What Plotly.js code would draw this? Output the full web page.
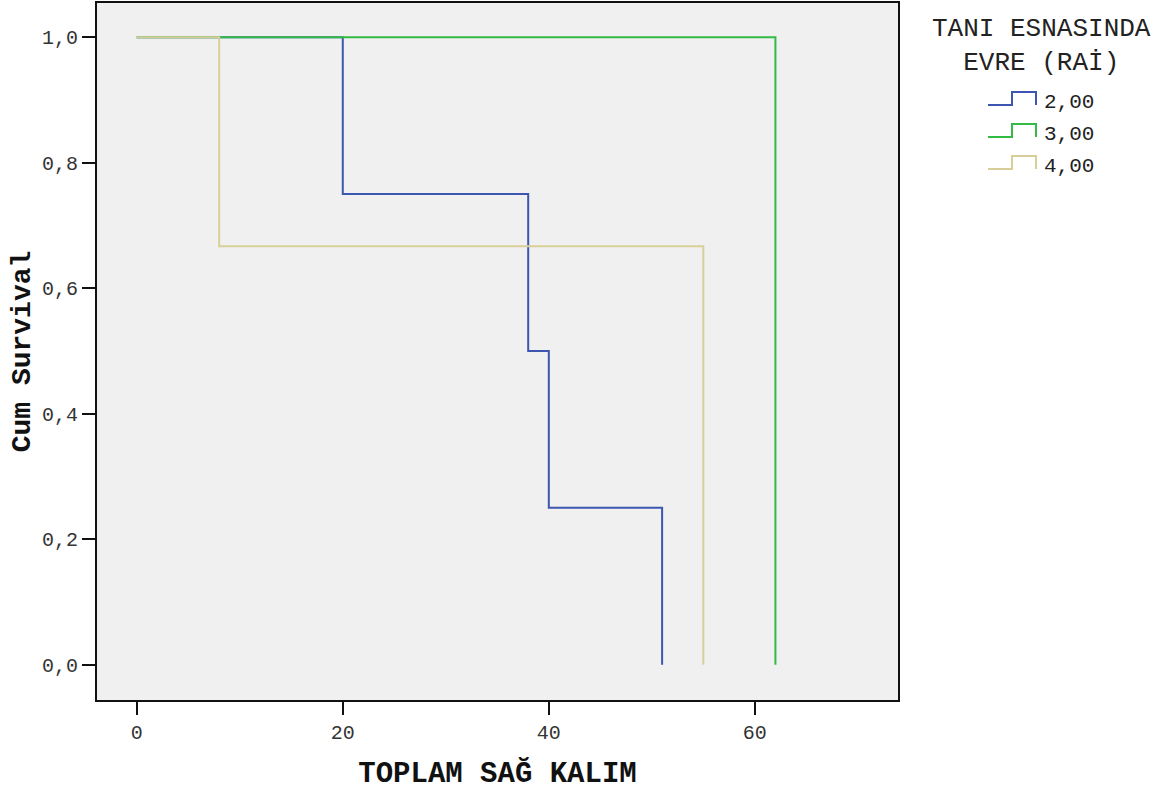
<!DOCTYPE html>
<html>
<head>
<meta charset="utf-8">
<script src="https://cdn.plot.ly/plotly-3.0.1.min.js"></script>
<style>
  html, body { margin: 0; padding: 0; background: #ffffff; }
  #chart { width: 1165px; height: 791px; }
</style>
</head>
<body>
<div id="chart"></div>
<script>
// Kaplan-Meier survival by stage at diagnosis (Rai)
const groupLabels = ['2,00', '3,00', '4,00'];
const groupColors = ['#3d56b0', '#33bb45', '#d8cf98'];

// step points: time of each event and cumulative survival after it
const time200 = [0, 20, 38, 40, 51];
const surv200 = [1.0, 0.75, 0.5, 0.25, 0.0];

const time300 = [0, 62];
const surv300 = [1.0, 0.0];

const time400 = [0, 8, 55];
const surv400 = [1.0, 0.6667, 0.0];

const yTicks = [0, 0.2, 0.4, 0.6, 0.8, 1.0];
const xTicks = [0, 20, 40, 60];

const W = 1165, H = 791;
const M = { l: 97, r: 267, t: 3, b: 91 };
const PW = W - M.l - M.r, PH = H - M.t - M.b;
// pixel -> paper helpers for the hand-built legend
const px = v => (v - M.l) / PW;
const py = v => (H - M.b - v) / PH;

const series = [
  { x: time200, y: surv200 },
  { x: time300, y: surv300 },
  { x: time400, y: surv400 }
];

const traces = series.map((s, i) => ({
  type: 'scatter',
  mode: 'lines',
  x: s.x,
  y: s.y,
  name: groupLabels[i],
  line: { shape: 'hv', color: groupColors[i], width: 2 },
  showlegend: false,
  hoverinfo: 'x+y+name'
}));

const mono = '"Courier New", "Nimbus Mono PS", "Nimbus Mono L", FreeMono, "Liberation Mono", monospace';

// legend: step glyph + label per group
const shapes = [];
const annotations = [];
groupLabels.forEach((lab, i) => {
  const base = 105 + i * 32;
  const top = base - 13;
  shapes.push({
    type: 'path', xref: 'paper', yref: 'paper',
    path: `M ${px(988)} ${py(base)} L ${px(1012)} ${py(base)} L ${px(1012)} ${py(top)} L ${px(1036)} ${py(top)} L ${px(1036)} ${py(base)}`,
    line: { color: groupColors[i], width: 2 }
  });
  annotations.push({
    xref: 'paper', yref: 'paper', x: px(1042), y: py(base - 3),
    xanchor: 'left', yanchor: 'middle', showarrow: false,
    text: lab, font: { family: mono, size: 21, color: '#222' }
  });
});
annotations.push({
  xref: 'paper', yref: 'paper', x: px(1041), y: py(46),
  xanchor: 'center', yanchor: 'middle', showarrow: false,
  text: 'TANI ESNASINDA<br>EVRE (RAİ)', align: 'center',
  font: { family: mono, size: 26, color: '#222' }
});

const layout = {
  width: W, height: H,
  margin: M,
  paper_bgcolor: '#ffffff',
  plot_bgcolor: '#f0f0f0',
  separators: ',.',
  showlegend: false,
  xaxis: {
    range: [-3.86, 73.9],
    tickvals: xTicks,
    tickformat: 'd',
    showgrid: false, zeroline: false,
    showline: true, mirror: true, linecolor: '#111', linewidth: 2,
    ticks: 'outside', ticklen: 13, tickwidth: 2, tickcolor: '#111',
    tickfont: { family: mono, size: 20, color: '#333' },
    title: { text: '<b>TOPLAM SAĞ KALIM</b>', standoff: 18,
             font: { family: mono, size: 29, color: '#111' } }
  },
  yaxis: {
    range: [-0.0562, 1.0544],
    tickvals: yTicks,
    tickformat: '.1f',
    showgrid: false, zeroline: false,
    showline: true, mirror: true, linecolor: '#111', linewidth: 2,
    ticks: 'outside', ticklen: 13, tickwidth: 2, tickcolor: '#111',
    tickfont: { family: mono, size: 20, color: '#333' },
    title: { text: '<b>Cum Survival</b>', standoff: 3,
             font: { family: mono, size: 28, color: '#111' } }
  },
  shapes: shapes,
  annotations: annotations
};

Plotly.newPlot('chart', traces, layout, { displayModeBar: false });
</script>
</body>
</html>
